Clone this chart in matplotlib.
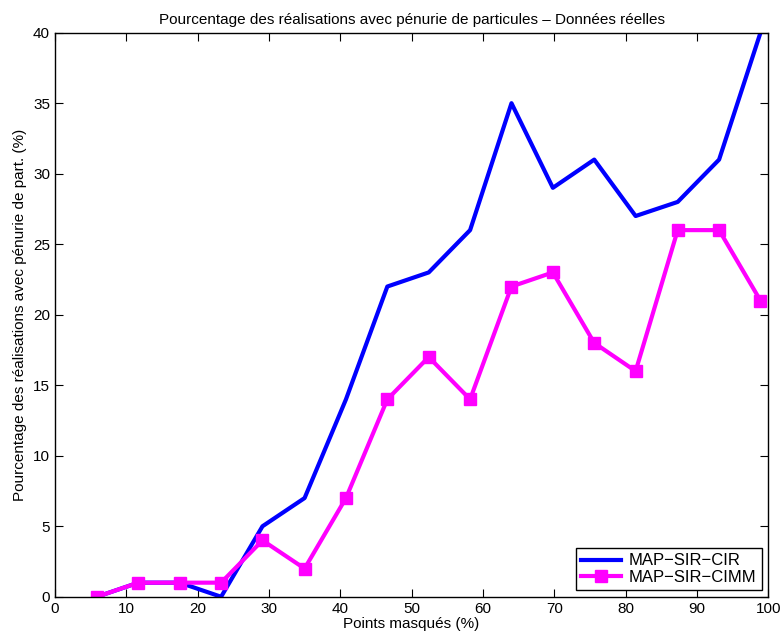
import matplotlib.pyplot as plt

x = [5.9, 11.7, 17.5, 23.3, 29.1, 35.0, 40.8, 46.6, 52.4, 58.2, 64.0, 69.8, 75.6, 81.4, 87.3, 93.1, 98.9]
cir = [0, 1, 1, 0, 5, 7, 14, 22, 23, 26, 35, 29, 31, 27, 28, 31, 40]
cimm = [0, 1, 1, 1, 4, 2, 7, 14, 17, 14, 22, 23, 18, 16, 26, 26, 21]

plt.rcParams['font.family'] = ['Liberation Sans', 'DejaVu Sans']
fig = plt.figure(figsize=(7.84, 6.41), dpi=100)
ax = fig.add_axes([0.070, 0.069, 0.910, 0.880])

ax.plot(x, cir, color='#0000ff', linewidth=3, label='MAP\u2212SIR\u2212CIR')
ax.plot(x, cimm, color='#ff00ff', linewidth=3, marker='s', markersize=8, label='MAP\u2212SIR\u2212CIMM')

ax.set_xlim(0, 100)
ax.set_ylim(0, 40)
ax.set_xticks(range(0, 101, 10))
ax.set_yticks(range(0, 41, 5))
ax.tick_params(direction='in', top=True, right=True, labelsize=11, length=6)
for s in ax.spines.values():
    s.set_linewidth(1)

ax.set_title('Pourcentage des réalisations avec pénurie de particules \u2013 Données réelles', fontsize=11)
ax.set_xlabel('Points masqués (%)', fontsize=11, labelpad=1)
ax.set_ylabel('Pourcentage des réalisations avec pénurie de part. (%)', fontsize=11, labelpad=4)

leg = ax.legend(loc='lower right', fontsize=12, fancybox=False, edgecolor='black',
                framealpha=1, borderaxespad=0.4, handlelength=2.4, handletextpad=0.5,
                borderpad=0.3, labelspacing=0.1)
leg.get_frame().set_linewidth(1)

fig.savefig('out.png', dpi=100)
